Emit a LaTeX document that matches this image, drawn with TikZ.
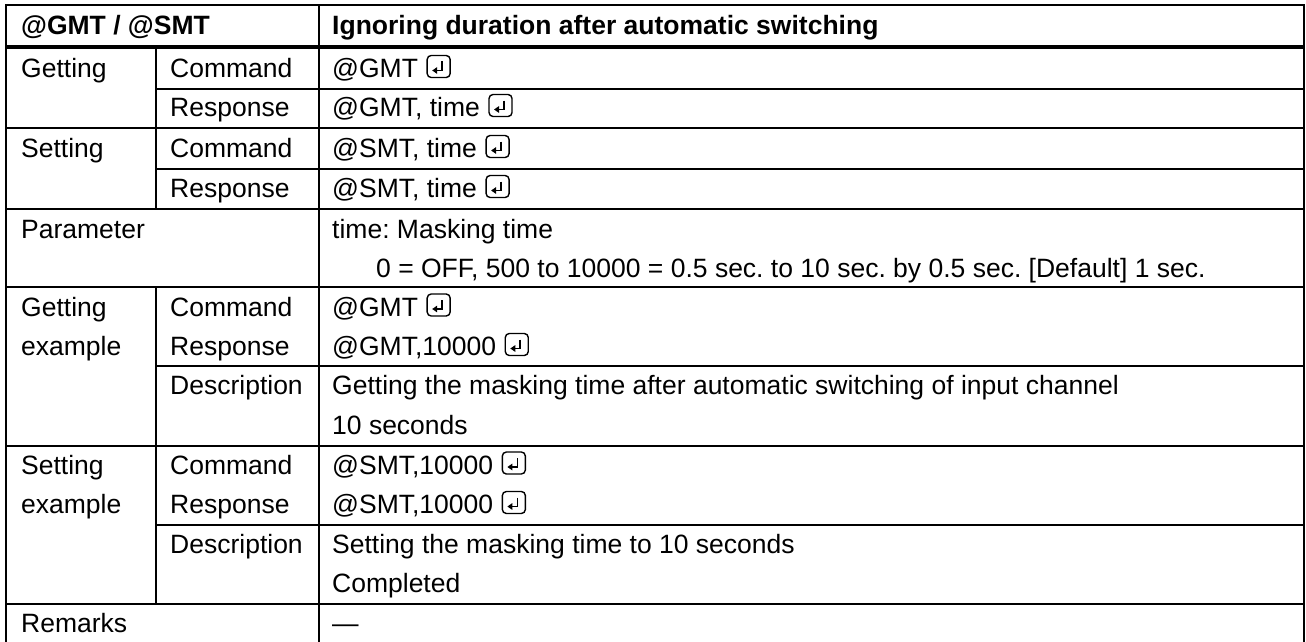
\documentclass[tikz,border=0pt]{standalone}
\usepackage{fontspec}
\setmainfont{Liberation Sans}
\usetikzlibrary{arrows.meta}
\frenchspacing
\newcommand{\tablefont}{\fontsize{26.5}{30}\selectfont}
\tikzset{
  txt/.style={anchor=base west, inner sep=0pt, font=\tablefont},
  hd/.style={txt, font=\tablefont\bfseries},
  rule/.style={line width=1.7pt},
  frame/.style={line width=2pt},
  headrule/.style={line width=3.5pt},
  retkey/.pic={
    \draw[line width=1.4pt, rounded corners=4pt] (0,0) rectangle (23,-22);
    \draw[line width=1.6pt, -{Triangle[length=5pt,width=6.5pt]}] (15,-16) -- (15,-7) -- (5,-7);
  }
}
\begin{document}
\begin{tikzpicture}[x=1pt, y=-1pt]
\useasboundingbox (0,0) rectangle (1306,642);
\fill[white] (0,0) rectangle (1306,642);

% grid: outer frame
\draw[frame] (6,642) -- (6,5) -- (1304,5) -- (1304,642);
% full-width rules
\draw[headrule] (6,47) -- (1304,47);
\foreach \yy in {128,209,287,446,604} \draw[rule] (6,\yy) -- (1304,\yy);
% rules under columns 2 and 3 only
\foreach \yy in {89,169,366,525} \draw[rule] (156,\yy) -- (1304,\yy);
% column separators
\draw[rule] (319,5) -- (319,642);
\draw[rule] (156,47) -- (156,209);
\draw[rule] (156,287) -- (156,604);

% header
\node[hd] (h1) at (21,35) {@GMT / @SMT};
\node[hd] (h2) at (332,35) {Ignoring duration after automatic switching};

% getting
\node[txt] (g0) at (21,77.5) {Getting};
\node[txt] (g1) at (170,77.5) {Command};
\node[txt] (g1v) at (332,77.5) {@GMT};
\pic at ([xshift=9pt]g1v.base east) {retkey};
\node[txt] (g2) at (170,116.5) {Response};
\node[txt] (g2v) at (332,116.5) {@GMT, time};
\pic at ([xshift=9pt]g2v.base east) {retkey};

% setting
\node[txt] (s0) at (21,157.5) {Setting};
\node[txt] (s1) at (170,157.5) {Command};
\node[txt] (s1v) at (332,157.5) {@SMT, time};
\pic at ([xshift=9pt]s1v.base east) {retkey};
\node[txt] (s2) at (170,197.5) {Response};
\node[txt] (s2v) at (332,197.5) {@SMT, time};
\pic at ([xshift=9pt]s2v.base east) {retkey};

% parameter
\node[txt] (p0) at (21,238) {Parameter};
\node[txt] (p1) at (332,238) {time: Masking time};
\node[txt] (p2) at (376,277.5) {0 = OFF, 500 to 10000 = 0.5 sec. to 10 sec. by 0.5 sec. [Default] 1 sec.};

% getting example
\node[txt] (ge0) at (21,316) {Getting};
\node[txt] (ge0b) at (21,355.5) {example};
\node[txt] (ge1) at (170,316) {Command};
\node[txt] (ge1v) at (332,316) {@GMT};
\pic at ([xshift=9pt]ge1v.base east) {retkey};
\node[txt] (ge2) at (170,355.5) {Response};
\node[txt] (ge2v) at (332,355.5) {@GMT,10000};
\pic at ([xshift=9pt]ge2v.base east) {retkey};
\node[txt] (ge3) at (170,394.5) {Description};
\node[txt] (ge3v) at (332,394.5) {Getting the masking time after automatic switching of input channel};
\node[txt] (ge3w) at (332,434) {10 seconds};

% setting example
\node[txt] (se0) at (21,474) {Setting};
\node[txt] (se0b) at (21,513.5) {example};
\node[txt] (se1) at (170,474) {Command};
\node[txt] (se1v) at (332,474) {@SMT,10000};
\pic at ([xshift=9pt]se1v.base east) {retkey};
\node[txt] (se2) at (170,513.5) {Response};
\node[txt] (se2v) at (332,513.5) {@SMT,10000};
\pic at ([xshift=9pt]se2v.base east) {retkey};
\node[txt] (se3) at (170,553) {Description};
\node[txt] (se3v) at (332,553) {Setting the masking time to 10 seconds};
\node[txt] (se3w) at (332,592.5) {Completed};

% remarks
\node[txt] (r0) at (21,632) {Remarks};
\node[txt] (r1) at (332,632) {—};
\end{tikzpicture}
\end{document}
